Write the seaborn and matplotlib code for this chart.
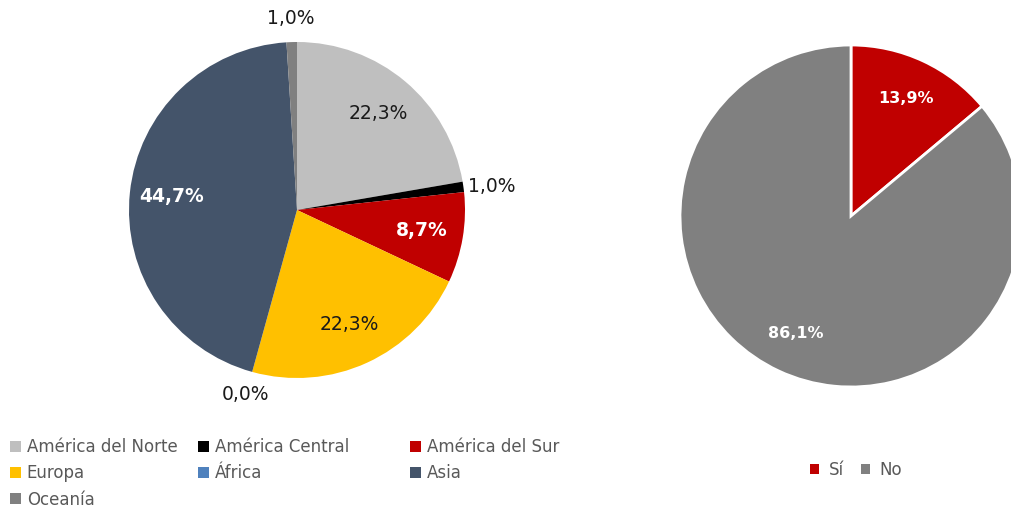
import numpy as np
import matplotlib
matplotlib.use("Agg")
import matplotlib.pyplot as plt
import seaborn as sns
from matplotlib.patches import Patch

sns.set_theme(style="white")
plt.rcParams['font.family'] = ['DejaVu Sans']

# ---- data ----
regions = ["América del Norte", "América Central", "América del Sur", "Europa",
           "África", "Asia", "Oceanía"]
region_pct = [22.3, 1.0, 8.7, 22.3, 0.0, 44.7, 1.0]
region_colors = ["#BFBFBF", "#000000", "#C00000", "#FFC000", "#4F81BD", "#44546A", "#808080"]
region_label_inside = [True, False, True, True, False, True, False]
region_label_white = [False, False, True, False, False, True, False]

answers = ["Sí", "No"]
answer_pct = [13.9, 86.1]
answer_colors = ["#C00000", "#808080"]

W, H = 1011, 508
fig = plt.figure(figsize=(W / 100, H / 100), dpi=100)


def make_ax(cx, cy, r):
    ax = fig.add_axes([(cx - r) / W, 1 - (cy + r) / H, 2 * r / W, 2 * r / H])
    return ax


def finish_ax(ax):
    ax.set_xlim(-1, 1)
    ax.set_ylim(-1, 1)
    ax.set_aspect("equal")
    ax.axis("off")


def fmt(v):
    return f"{v:.1f}%".replace(".", ",")


# ---- left pie ----
ax1 = make_ax(297, 210, 168)
wedges1, _ = ax1.pie(region_pct, colors=region_colors, startangle=90, counterclock=False,
                     radius=1, wedgeprops=dict(linewidth=0))
finish_ax(ax1)
for w, v, inside, white in zip(wedges1, region_pct, region_label_inside, region_label_white):
    mid = np.deg2rad((w.theta1 + w.theta2) / 2)
    ha = "center"
    if inside:
        d = 0.75
    elif np.cos(mid) > 0.7:
        d, ha = 1.03, "left"
    else:
        d = 1.14
    ax1.text(d * np.cos(mid), d * np.sin(mid), fmt(v), ha=ha, va="center",
             fontsize=13.5, color="white" if white else "#1a1a1a",
             fontweight="bold" if white else "normal", clip_on=False)

# legend laid out row by row in three columns
handles1 = [Patch(facecolor=c, edgecolor="none") for c in region_colors]
col_x = [10, 198, 410]
for ci in range(3):
    idx = list(range(ci, len(regions), 3))
    fig.legend([handles1[i] for i in idx], [regions[i] for i in idx],
               loc="upper left", bbox_to_anchor=(col_x[ci] / W, 1 - 438 / H), ncol=1,
               frameon=False, fontsize=12, labelcolor="#595959",
               handlelength=0.65, handleheight=0.65, handletextpad=0.35,
               labelspacing=0.5, borderaxespad=0, borderpad=0)

# ---- right pie ----
ax2 = make_ax(851, 216, 171)
wedges2, _ = ax2.pie(answer_pct, colors=answer_colors, startangle=90, counterclock=False,
                     radius=1, wedgeprops=dict(linewidth=2, edgecolor="white"))
finish_ax(ax2)
for w, v in zip(wedges2, answer_pct):
    mid = np.deg2rad((w.theta1 + w.theta2) / 2)
    ax2.text(0.76 * np.cos(mid), 0.76 * np.sin(mid), fmt(v), ha="center", va="center",
             fontsize=11.5, color="white", fontweight="bold", clip_on=False)

handles2 = [Patch(facecolor=c, edgecolor="none") for c in answer_colors]
fig.legend(handles2, answers, loc="center", bbox_to_anchor=(856 / W, 1 - 470 / H),
           ncol=2, frameon=False, fontsize=12, labelcolor="#595959",
           handlelength=0.55, handleheight=0.55, handletextpad=0.6,
           columnspacing=1.0, borderaxespad=0, borderpad=0)

fig.savefig("out.png", dpi=100, facecolor="white")
